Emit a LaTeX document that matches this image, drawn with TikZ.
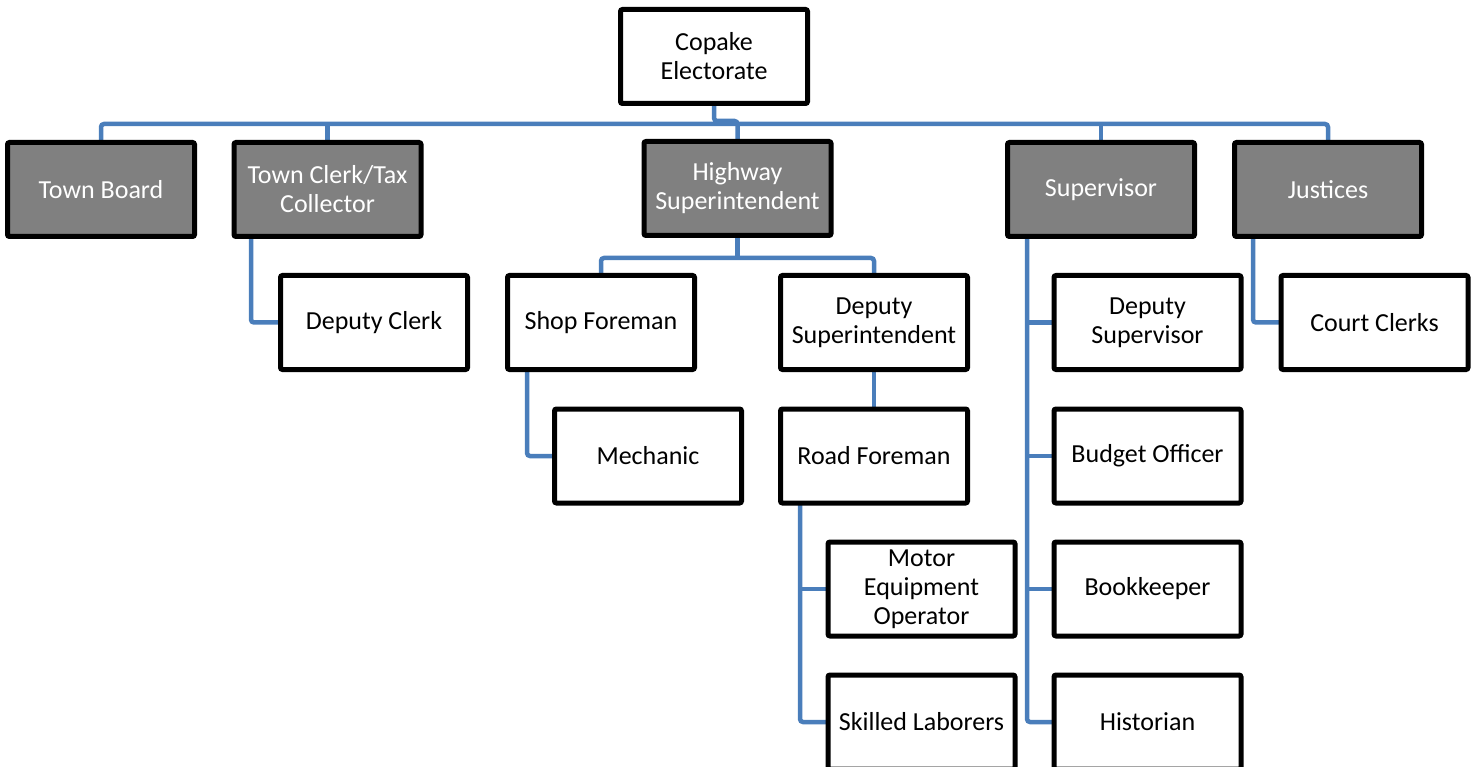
\documentclass[tikz,border=0pt]{standalone}
\usepackage{fontspec}
\setmainfont{Carlito}
\usetikzlibrary{backgrounds}
\definecolor{linkblue}{HTML}{4A7EBB}
\definecolor{headgray}{HTML}{808080}
\begin{document}
\begin{tikzpicture}[x=1pt,y=-1pt,
  box/.style={draw=black, line width=5pt, rounded corners=2pt, fill=white,
    minimum width=187pt, minimum height=94pt, inner sep=1pt, outer sep=0pt,
    align=center, font=\fontsize{26}{29}\selectfont},
  headbox/.style={box, fill=headgray, text=white},
  conn/.style={draw=linkblue, line width=4.5pt, rounded corners=3pt}]
\useasboundingbox (0,0) rectangle (1478,767);
% nodes
\node[box] (cop) at (714,56.5) {Copake\\Electorate};
\node[headbox] (tb) at (101,189.5) {Town Board};
\node[headbox] (tc) at (327.5,189.5) {Town Clerk/Tax\\Collector};
\node[headbox] (hw) at (737.5,188.5) {Highway\\Superintendent};
\node[headbox] (sup) at (1101,189.5) {Supervisor};
\node[headbox] (jus) at (1328,189.5) {Justices};
\node[box] (dc) at (374,322.5) {Deputy Clerk};
\node[box] (sf) at (601,322.5) {Shop Foreman};
\node[box] (ds) at (874,322.5) {Deputy\\Superintendent};
\node[box] (dsv) at (1147.5,322.5) {Deputy\\Supervisor};
\node[box] (cc) at (1374.5,322.5) {Court Clerks};
\node[box] (mech) at (648,456) {Mechanic};
\node[box] (rf) at (874,456) {Road Foreman};
\node[box] (bo) at (1147.5,456) {Budget Officer};
\node[box] (mot) at (921.5,589) {Motor\\Equipment\\Operator};
\node[box] (bk) at (1147.5,589) {Bookkeeper};
\node[box] (sk) at (921.5,722) {Skilled Laborers};
\node[box] (hist) at (1147.5,722) {Historian};
% connectors
\begin{scope}[on background layer]
\draw[conn] (cop.south) -- (cop.south |- 0,121) -| (hw.north);
\draw[conn] (tb.north) -- (tb.north |- 0,124) -- (jus.north |- 0,124) -- (jus.north);
\draw[conn] (tc.north) -- (tc.north |- 0,124);
\draw[conn] (sup.north) -- (sup.north |- 0,124);
\draw[conn] (tc.south -| 251,0) |- (dc.west);
\draw[conn] (hw.south) -- (hw.south |- 0,258);
\draw[conn] (sf.north) -- (sf.north |- 0,258) -- (ds.north |- 0,258) -- (ds.north);
\draw[conn] (sf.south -| 527,0) |- (mech.west);
\draw[conn] (ds.south) -- (rf.north);
\draw[conn] (rf.south -| 800,0) |- (sk.west);
\draw[conn] (800,0 |- mot.west) -- (mot.west);
\draw[conn] (sup.south -| 1027,0) |- (hist.west);
\draw[conn] (1027,0 |- dsv.west) -- (dsv.west);
\draw[conn] (1027,0 |- bo.west) -- (bo.west);
\draw[conn] (1027,0 |- bk.west) -- (bk.west);
\draw[conn] (jus.south -| 1253,0) |- (cc.west);
\end{scope}
\end{tikzpicture}
\end{document}
